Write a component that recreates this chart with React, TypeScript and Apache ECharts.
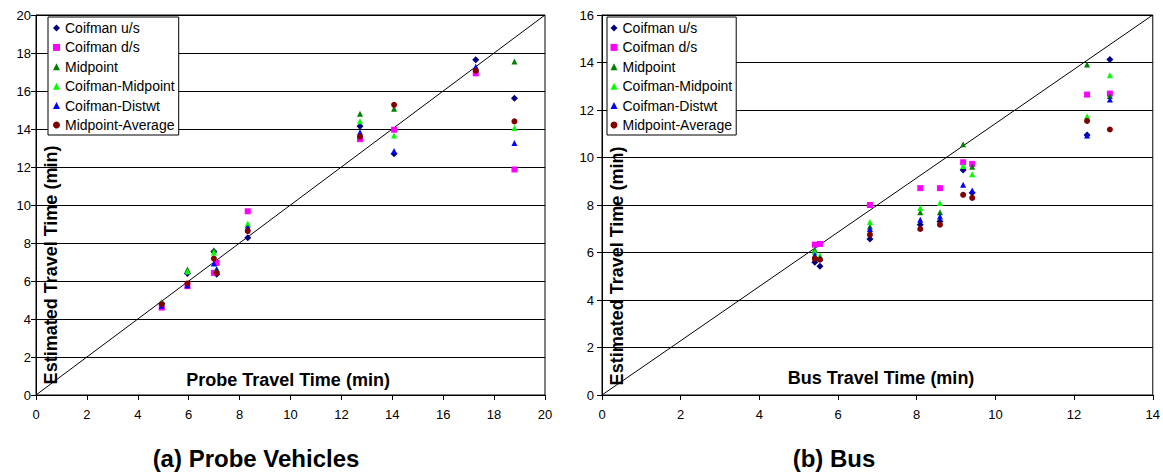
import React, { useEffect, useRef } from "react";
import * as echarts from "echarts";

const seriesNames = ["Coifman u/s", "Coifman d/s", "Midpoint", "Coifman-Midpoint", "Coifman-Distwt", "Midpoint-Average"];
const seriesColors = ["#000080", "#FF00FF", "#008000", "#00FF00", "#0000FF", "#800000"];
const seriesSymbols = ["diamond", "rect", "triangle", "triangle", "triangle", "circle"];

const probeX = [4.94, 5.95, 6.99, 7.1, 8.32, 12.73, 14.07, 17.28, 18.8];
const probeUs = [4.82, 6.39, 7.55, 6.36, 8.28, 14.15, 12.7, 17.65, 15.62];
const probeDs = [4.6, 5.73, 6.43, 6.95, 9.67, 13.47, 13.96, 16.93, 11.87];
const probeMid = [4.9, 6.6, 7.62, 6.6, 8.93, 14.8, 15.06, 17.16, 17.55];
const probeCM = [4.85, 6.5, 7.5, 6.65, 9.02, 14.41, 13.66, 17.25, 14.05];
const probeCD = [4.7, 5.78, 6.92, 6.6, 8.81, 13.83, 12.84, 17.28, 13.26];
const probeMA = [4.78, 5.87, 7.18, 6.43, 8.63, 13.6, 15.27, 17.07, 14.4];

const busX = [5.41, 5.54, 6.81, 8.09, 8.59, 9.18, 9.41, 12.33, 12.91];
const busUs = [5.59, 5.42, 6.57, 7.17, 7.31, 9.47, 8.52, 10.95, 14.13];
const busDs = [6.33, 6.36, 8.0, 8.71, 8.71, 9.8, 9.73, 12.65, 12.69];
const busMid = [6.12, 5.81, 7.1, 7.7, 7.69, 10.56, 9.61, 13.92, 12.59];
const busCM = [6.02, 5.87, 7.28, 7.87, 8.08, 9.64, 9.29, 11.74, 13.46];
const busCD = [5.9, 5.77, 6.99, 7.38, 7.52, 8.85, 8.61, 10.93, 12.44];
const busMA = [5.74, 5.7, 6.75, 6.99, 7.17, 8.43, 8.3, 11.54, 11.18];

const probeDiag = [[0, 0], [20, 20]];
const busDiag = [[0, 0], [14, 16]];

const FONT = '"Liberation Sans", Arial, sans-serif';

export default function App() {
  const ref = useRef<HTMLDivElement>(null);
  useEffect(() => {
    if (!ref.current) return;
    const chart = echarts.init(ref.current, null, { renderer: "svg" });
    const probeSets = [probeUs, probeDs, probeMid, probeCM, probeCD, probeMA];
    const busSets = [busUs, busDs, busMid, busCM, busCD, busMA];

    const mkScatter = (xs: number[], ys: number[], i: number, gi: number) => ({
      type: "scatter",
      name: seriesNames[i],
      xAxisIndex: gi,
      yAxisIndex: gi,
      symbol: seriesSymbols[i],
      symbolSize: seriesSymbols[i] === "diamond" ? 7 : 6,
      itemStyle: { color: seriesColors[i], opacity: 1 },
      data: xs.map((x, k) => [x, ys[k]]),
      silent: true,
    });

    const axisCommon = {
      axisLine: { show: true, onZero: false, lineStyle: { color: "#000", width: 1 } },
      axisTick: { show: true, inside: false, length: 5, lineStyle: { color: "#000" } },
      axisLabel: { color: "#000", fontSize: 13, fontFamily: FONT },
    };

    const legendCommon = {
      orient: "vertical",
      data: seriesNames,
      borderColor: "#000",
      borderWidth: 1,
      backgroundColor: "#fff",
      itemWidth: 7,
      itemHeight: 7,
      itemGap: 5.4,
      selectedMode: false,
      textStyle: { color: "#000", fontSize: 14, fontFamily: FONT },
    };

    const option = {
      animation: false,
      backgroundColor: "#fff",
      grid: [
        { left: 36, top: 15, width: 509, height: 380, show: true, borderColor: "#000", borderWidth: 1, backgroundColor: "transparent" },
        { left: 602, top: 15, width: 552, height: 380, show: true, borderColor: "#000", borderWidth: 1, backgroundColor: "transparent" },
      ],
      xAxis: [
        { type: "value", gridIndex: 0, min: 0, max: 20, interval: 2, splitLine: { show: false }, ...axisCommon, axisLabel: { ...axisCommon.axisLabel, margin: 13 } },
        { type: "value", gridIndex: 1, min: 0, max: 14, interval: 2, splitLine: { show: false }, ...axisCommon, axisLabel: { ...axisCommon.axisLabel, margin: 13 } },
      ],
      yAxis: [
        { type: "value", gridIndex: 0, min: 0, max: 20, interval: 2, splitLine: { show: true, lineStyle: { color: "#000", width: 1 } }, ...axisCommon, axisLabel: { ...axisCommon.axisLabel, margin: 5 } },
        { type: "value", gridIndex: 1, min: 0, max: 16, interval: 2, splitLine: { show: true, lineStyle: { color: "#000", width: 1 } }, ...axisCommon, axisLabel: { ...axisCommon.axisLabel, margin: 8 } },
      ],
      legend: [
        { ...legendCommon, left: 48, top: 17, padding: [4, 4, 3, 5] },
        { ...legendCommon, left: 607, top: 17, padding: [4, 4, 3, 3.5] },
      ],
      graphic: [
        { type: "text", x: 288, y: 380, z: 50, style: { text: "Probe Travel Time (min)", fontSize: 18, fontWeight: "bold", fontFamily: FONT, fill: "#000", textAlign: "center", textVerticalAlign: "middle" } },
        { type: "text", x: 881, y: 378, z: 50, style: { text: "Bus Travel Time (min)", fontSize: 18, fontWeight: "bold", fontFamily: FONT, fill: "#000", textAlign: "center", textVerticalAlign: "middle" } },
        { type: "text", x: 51, y: 265, rotation: Math.PI / 2, z: 50, style: { text: "Estimated Travel Time (min)", fontSize: 18, fontWeight: "bold", fontFamily: FONT, fill: "#000", textAlign: "center", textVerticalAlign: "middle" } },
        { type: "text", x: 617, y: 266, rotation: Math.PI / 2, z: 50, style: { text: "Estimated Travel Time (min)", fontSize: 18, fontWeight: "bold", fontFamily: FONT, fill: "#000", textAlign: "center", textVerticalAlign: "middle" } },
        { type: "text", x: 256, y: 458, style: { text: "(a) Probe Vehicles", fontSize: 24, fontWeight: "bold", fontFamily: FONT, fill: "#000", textAlign: "center", textVerticalAlign: "middle" } },
        { type: "text", x: 834, y: 458, style: { text: "(b) Bus", fontSize: 24, fontWeight: "bold", fontFamily: FONT, fill: "#000", textAlign: "center", textVerticalAlign: "middle" } },
      ],
      series: [
        { type: "line", xAxisIndex: 0, yAxisIndex: 0, data: probeDiag, symbol: "none", silent: true, lineStyle: { color: "#000", width: 1 }, z: 1 },
        { type: "line", xAxisIndex: 1, yAxisIndex: 1, data: busDiag, symbol: "none", silent: true, lineStyle: { color: "#000", width: 1 }, z: 1 },
        ...probeSets.map((ys, i) => mkScatter(probeX, ys, i, 0)),
        ...busSets.map((ys, i) => mkScatter(busX, ys, i, 1)),
      ],
    };
    chart.setOption(option as any);
    return () => chart.dispose();
  }, []);
  return <div ref={ref} style={{ width: 1163, height: 473, position: "absolute", left: 0, top: 0 }} />;
}
